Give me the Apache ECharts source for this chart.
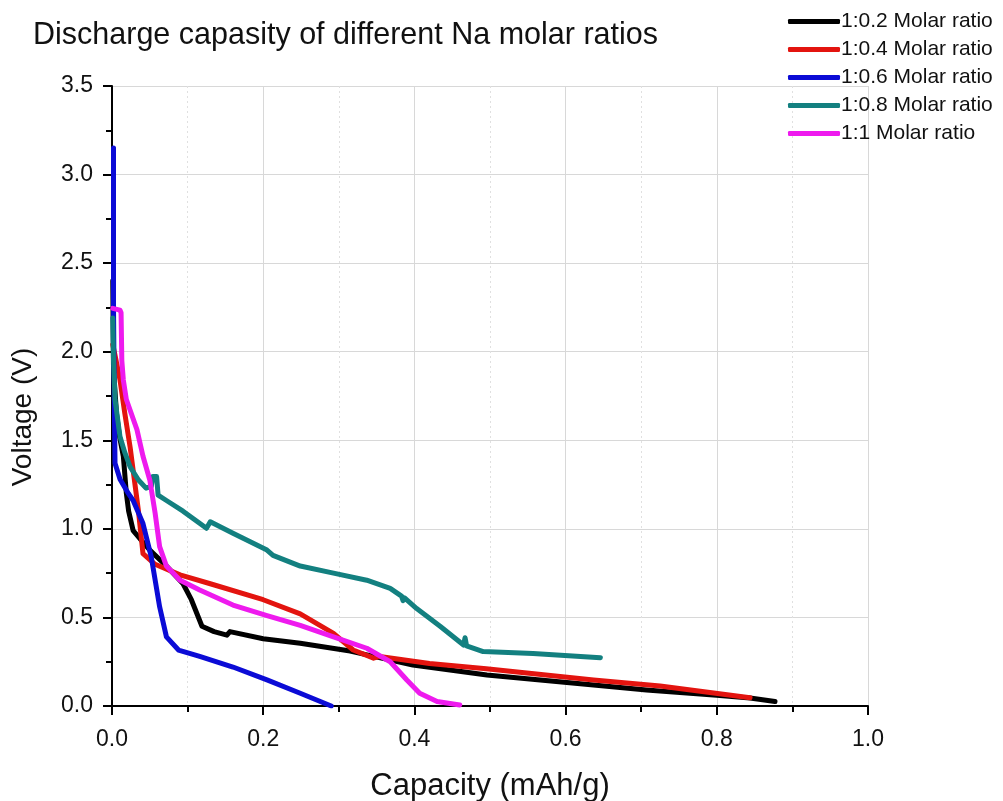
<!DOCTYPE html>
<html>
<head>
<meta charset="utf-8">
<script src="https://cdn.jsdelivr.net/npm/echarts@6/dist/echarts.min.js"></script>
<style>html,body{margin:0;padding:0;background:#fff}#c{width:1003px;height:801px}</style>
</head>
<body>
<div id="c"></div>
<script>
const seriesNames = ['1:0.2 Molar ratio', '1:0.4 Molar ratio', '1:0.6 Molar ratio', '1:0.8 Molar ratio', '1:1 Molar ratio'];
const seriesColors = ['#000000', '#e3140f', '#0b0bd6', '#138080', '#ee1aee'];

const cap02 = [0.001, 0.002, 0.006, 0.010, 0.015, 0.019, 0.022, 0.028, 0.040, 0.050, 0.072, 0.094, 0.105, 0.119, 0.135, 0.152, 0.156, 0.200, 0.249, 0.315, 0.398, 0.496, 0.637, 0.707, 0.800, 0.844, 0.877];
const volt02 = [2.40, 1.90, 1.65, 1.52, 1.41, 1.20, 1.10, 0.99, 0.93, 0.88, 0.79, 0.69, 0.60, 0.45, 0.42, 0.40, 0.42, 0.38, 0.354, 0.31, 0.231, 0.175, 0.118, 0.090, 0.060, 0.045, 0.025];

const cap04 = [0.001, 0.004, 0.0106, 0.017, 0.024, 0.035, 0.041, 0.057, 0.090, 0.130, 0.200, 0.249, 0.293, 0.319, 0.346, 0.354, 0.420, 0.495, 0.637, 0.725, 0.844];
const volt04 = [2.04, 1.98, 1.84, 1.65, 1.46, 1.10, 0.86, 0.80, 0.74, 0.69, 0.60, 0.52, 0.41, 0.316, 0.27, 0.28, 0.24, 0.21, 0.147, 0.113, 0.047];

const cap06 = [0.002, 0.002, 0.003, 0.004, 0.0106, 0.0216, 0.028, 0.041, 0.052, 0.063, 0.072, 0.088, 0.116, 0.160, 0.205, 0.249, 0.290];
const volt06 = [3.15, 2.25, 1.73, 1.37, 1.28, 1.20, 1.16, 1.03, 0.84, 0.56, 0.39, 0.316, 0.28, 0.22, 0.147, 0.072, 0.0];

const cap08 = [0.001, 0.002, 0.004, 0.0106, 0.017, 0.024, 0.035, 0.045, 0.052, 0.054, 0.059, 0.061, 0.072, 0.094, 0.125, 0.130, 0.160, 0.205, 0.213, 0.249, 0.293, 0.337, 0.368, 0.383, 0.385, 0.387, 0.403, 0.434, 0.465, 0.467, 0.469, 0.491, 0.557, 0.646];
const volt08 = [2.19, 1.95, 1.73, 1.52, 1.43, 1.35, 1.276, 1.23, 1.24, 1.295, 1.295, 1.19, 1.16, 1.10, 1.003, 1.04, 0.975, 0.88, 0.85, 0.79, 0.75, 0.71, 0.664, 0.62, 0.595, 0.61, 0.55, 0.45, 0.344, 0.385, 0.34, 0.307, 0.297, 0.273];

const cap10 = [0.001, 0.0106, 0.012, 0.013, 0.015, 0.019, 0.033, 0.041, 0.050, 0.057, 0.063, 0.072, 0.090, 0.116, 0.160, 0.205, 0.249, 0.293, 0.337, 0.368, 0.390, 0.407, 0.430, 0.460];
const volt10 = [2.245, 2.235, 2.22, 1.95, 1.84, 1.73, 1.56, 1.41, 1.276, 1.09, 0.90, 0.79, 0.71, 0.655, 0.57, 0.51, 0.455, 0.39, 0.326, 0.25, 0.147, 0.072, 0.025, 0.006];

const xs = [cap02, cap04, cap06, cap08, cap10];
const ys = [volt02, volt04, volt06, volt08, volt10];

const FONT = 'Liberation Sans, Arial, sans-serif';
const chart = echarts.init(document.getElementById('c'), null, {renderer: 'canvas'});
const series = seriesNames.map((n, i) => ({
  name: n,
  type: 'line',
  data: xs[i].map((x, j) => [x, ys[i][j]]),
  showSymbol: false,
  symbol: 'none',
  lineStyle: {color: seriesColors[i], width: 5, cap: 'round', join: 'round'},
  itemStyle: {color: seriesColors[i]},
  animation: false
}));

chart.setOption({
  animation: false,
  backgroundColor: '#fff',
  title: {
    text: 'Discharge capasity of different Na molar ratios',
    left: 28, top: 15,
    textStyle: {fontFamily: FONT, fontSize: 30.5, fontWeight: 'normal', color: '#111'}
  },
  legend: {
    orient: 'vertical',
    left: 783, top: 5,
    itemWidth: 52, itemHeight: 5, itemGap: 5,
    icon: 'roundRect',
    textStyle: {fontFamily: FONT, fontSize: 21, lineHeight: 23, color: '#111', padding: [0, 0, 0, -4]},
    data: seriesNames
  },
  graphic: [{
    type: 'text',
    x: 23, y: 417,
    rotation: Math.PI / 2,
    style: {text: 'Voltage (V)', fontFamily: FONT, fontSize: 28, fill: '#111', textAlign: 'center', textVerticalAlign: 'middle'}
  }],
  grid: {left: 112, right: 135, top: 86, bottom: 95, containLabel: false, outerBoundsMode: 'none'},
  xAxis: {
    type: 'value', min: 0, max: 1.0, interval: 0.2,
    name: 'Capacity (mAh/g)', nameLocation: 'middle', nameGap: 65,
    nameTextStyle: {fontFamily: FONT, fontSize: 31, color: '#111'},
    axisLine: {show: true, onZero: false, lineStyle: {color: '#000', width: 2}},
    axisTick: {show: true, inside: false, length: 9, lineStyle: {color: '#000', width: 2}},
    minorTick: {show: true, splitNumber: 2, length: 6, lineStyle: {color: '#000', width: 2}},
    axisLabel: {fontFamily: FONT, fontSize: 23, color: '#111', margin: 22, formatter: v => v.toFixed(1)},
    splitLine: {show: true, lineStyle: {color: '#d8d8d8', width: 1}},
    minorSplitLine: {show: true, lineStyle: {color: '#e0e0e0', width: 1, type: [2, 3]}}
  },
  yAxis: {
    type: 'value', min: 0, max: 3.5, interval: 0.5,
    axisLine: {show: true, onZero: false, lineStyle: {color: '#000', width: 2}},
    axisTick: {show: true, inside: false, length: 9, lineStyle: {color: '#000', width: 2}},
    minorTick: {show: true, splitNumber: 2, length: 6, lineStyle: {color: '#000', width: 2}},
    axisLabel: {fontFamily: FONT, fontSize: 23, color: '#111', margin: 19, formatter: v => v.toFixed(1)},
    splitLine: {show: true, lineStyle: {color: '#d8d8d8', width: 1}}
  },
  series: series
});
</script>
</body>
</html>
